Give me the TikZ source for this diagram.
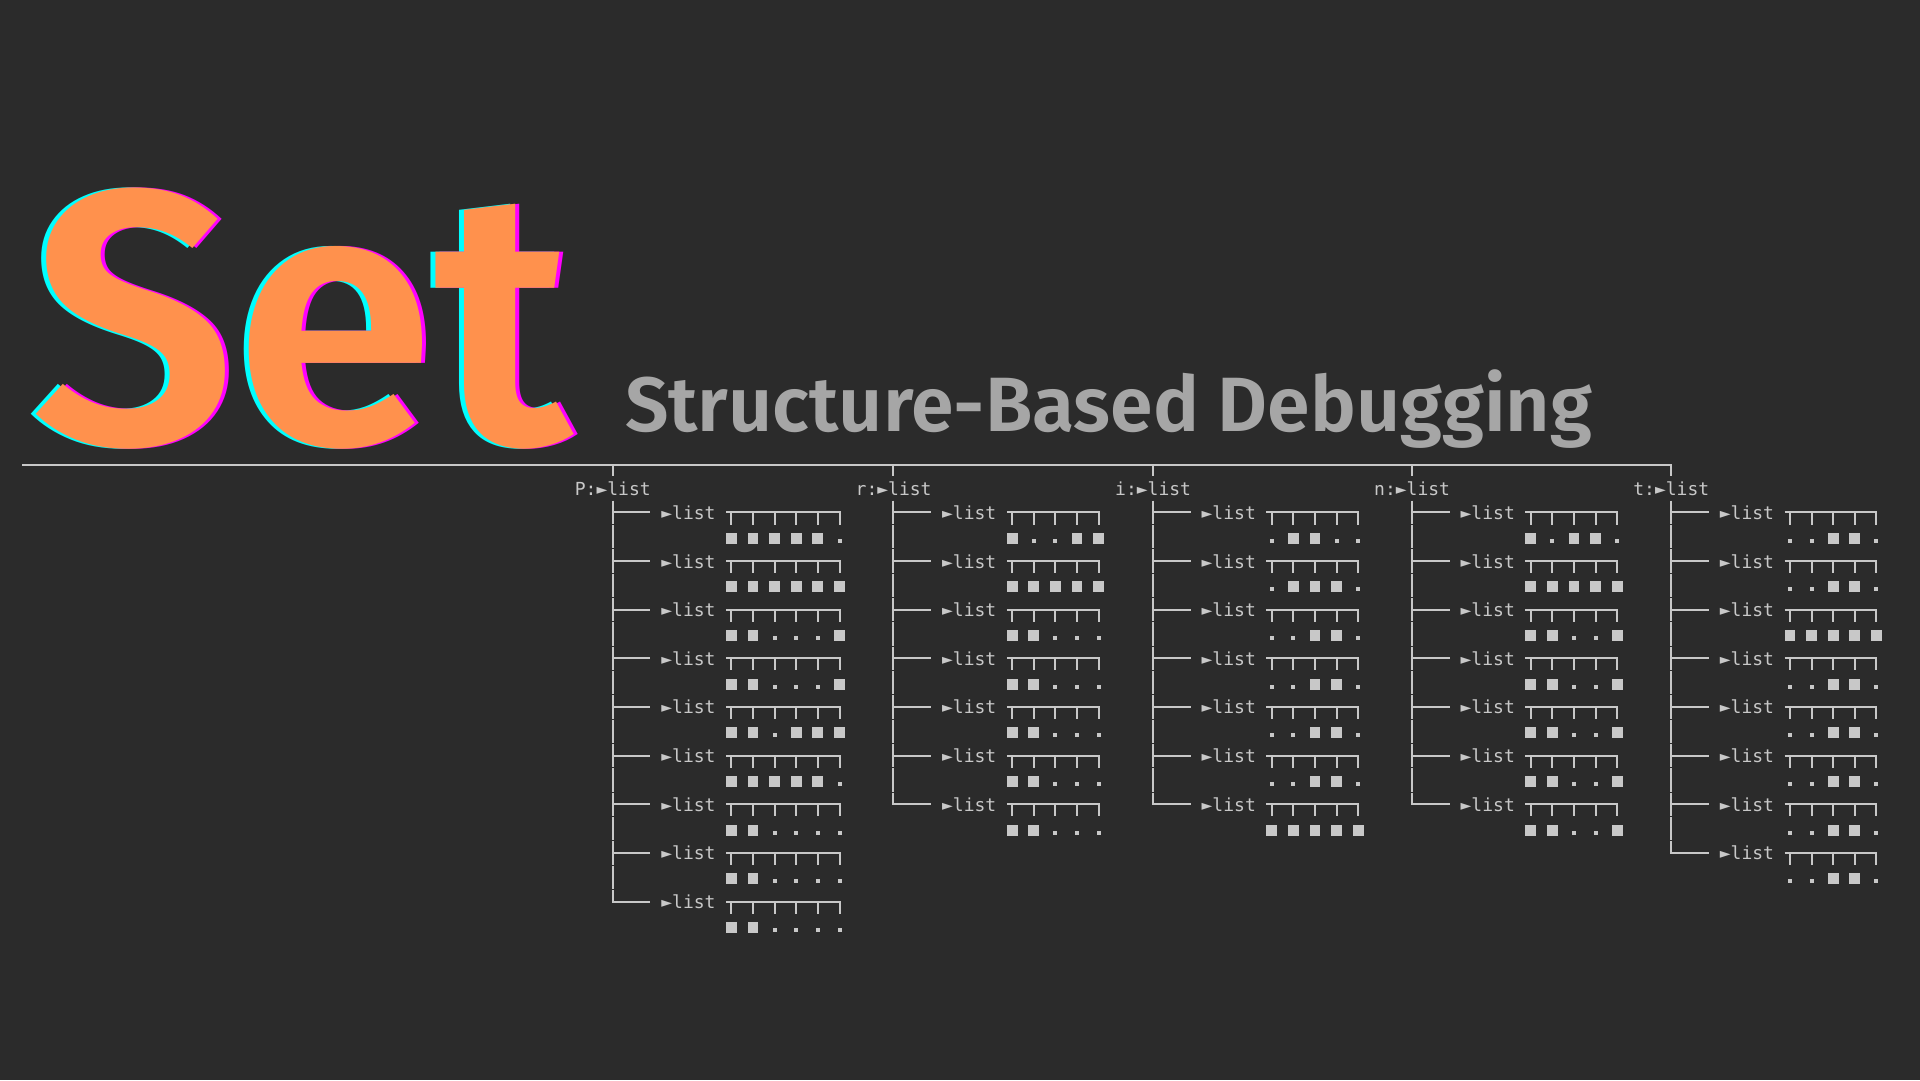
\documentclass[tikz,border=0pt]{standalone}
\usepackage{fontspec}
\setmainfont{Fira Sans}
\newfontfamily\titlefont{Fira Sans SemiBold}
\newfontfamily\monofont{DejaVu Sans Mono}
\definecolor{bg}{HTML}{2B2B2B}
\definecolor{fg}{HTML}{C8C8C8}
\definecolor{setorange}{HTML}{FF914D}
\definecolor{setcyan}{HTML}{00FFFF}
\definecolor{setmagenta}{HTML}{FF00FF}
\definecolor{subgray}{HTML}{A6A6A6}
\tikzset{
  treeline/.style={draw=fg, line width=2pt},
  monotext/.style={anchor=base west, inner sep=0pt, text=fg, font=\monofont\fontsize{18}{18}\selectfont},
  settext/.style={anchor=base west, inner sep=0pt, font=\titlefont\fontsize{361}{361}\selectfont},
}
% #1 letter, #2 trunk x, #3 number of cells, #4 number of rows, #5 patterns
\newcommand\treecol[5]{%
  \def\cw{10.81}%
  \draw[treeline] (#2,465) -- (#2,475.8);
  \node[monotext] (hdr#1) at ({#2-3.5*\cw},495) {#1:►list};
  \foreach \pat [count=\k] in {#5} {
    \pgfmathsetmacro\La{488+24.33*(2*\k-1)}
    \pgfmathsetmacro\Lb{488+24.33*(2*\k)}
    \ifnum\k<#4\relax
      \draw[treeline] (#2,\La-11.6) -- (#2,\La+11.6);
      \draw[treeline] (#2,\Lb-11.6) -- (#2,\Lb+11.6);
      \draw[treeline] (#2,\La) -- ++({3.5*\cw},0);
    \else
      \draw[treeline, line join=miter] (#2,\La-11.6) -- (#2,\La) -- ++({3.5*\cw},0);
    \fi
    \node[monotext] (lst#1\k) at ({#2+4.5*\cw},\La+7) {►list};
    \draw[treeline, line join=miter] ({#2+10.5*\cw},\La) -- ({#2+(11+2*(#3-1))*\cw},\La) -- ++(0,12.17);
    \foreach \j in {1,...,#3} {
      \ifnum\j<#3\relax
        \draw[treeline] ({#2+(9+2*\j)*\cw},\La) -- ++(0,12.17);
      \fi
    }
    \foreach \v [count=\j from 0] in \pat {
      \ifnum\v=1\relax
        \fill[fg] ({#2+(11+2*\j)*\cw-5.4},\Lb+1.5-5.4) rectangle ++(10.8,10.8);
      \else
        \fill[fg] ({#2+(11+2*\j)*\cw-2},\Lb+2) rectangle ++(4,4);
      \fi
    }
  }
}
\begin{document}
\begin{tikzpicture}[x=1pt,y=-1pt]
\useasboundingbox (0,0) rectangle (1920,1080);
\fill[bg] (0,0) rectangle (1920,1080);
% title
\node[settext, text=setcyan] (setc) at (31-4.5,443) {Set};
\node[settext, text=setmagenta] (setm) at (31+4.5,443) {Set};
\node[settext, text=setorange] (settitle) at (31,443) {Set};
\node[anchor=base west, inner sep=0pt, text=subgray, font=\titlefont\fontsize{77}{77}\selectfont] (subtitle) at (625,431) {Structure-Based Debugging};
% top rule
\coordinate (ruleL) at (22,465);
\coordinate (ruleR) at (1671,465);
\draw[treeline, line join=miter] (ruleL) -- (ruleR) -- ++(0,10.8);
\treecol{P}{612.5}{6}{9}{{1,1,1,1,1,0},{1,1,1,1,1,1},{1,1,0,0,0,1},{1,1,0,0,0,1},{1,1,0,1,1,1},{1,1,1,1,1,0},{1,1,0,0,0,0},{1,1,0,0,0,0},{1,1,0,0,0,0}}
\treecol{r}{893.3}{5}{7}{{1,0,0,1,1},{1,1,1,1,1},{1,1,0,0,0},{1,1,0,0,0},{1,1,0,0,0},{1,1,0,0,0},{1,1,0,0,0}}
\treecol{i}{1152.8}{5}{7}{{0,1,1,0,0},{0,1,1,1,0},{0,0,1,1,0},{0,0,1,1,0},{0,0,1,1,0},{0,0,1,1,0},{1,1,1,1,1}}
\treecol{n}{1411.8}{5}{7}{{1,0,1,1,0},{1,1,1,1,1},{1,1,0,0,1},{1,1,0,0,1},{1,1,0,0,1},{1,1,0,0,1},{1,1,0,0,1}}
\treecol{t}{1671}{5}{8}{{0,0,1,1,0},{0,0,1,1,0},{1,1,1,1,1},{0,0,1,1,0},{0,0,1,1,0},{0,0,1,1,0},{0,0,1,1,0},{0,0,1,1,0}}
\end{tikzpicture}
\end{document}
